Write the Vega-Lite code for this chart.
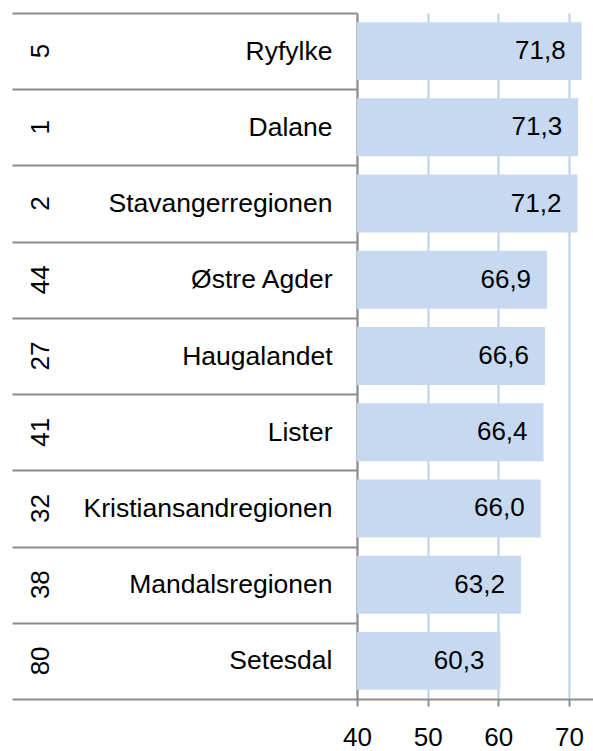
{
  "$schema": "https://vega.github.io/schema/vega-lite/v6.json",
  "width": 236,
  "height": 686,
  "autosize": {"type": "none"},
  "padding": {"left": 357, "top": 13, "right": 0, "bottom": 52},
  "data": {
    "values": [
      {"rank": "5", "name": "Ryfylke", "value": 71.8},
      {"rank": "1", "name": "Dalane", "value": 71.3},
      {"rank": "2", "name": "Stavangerregionen", "value": 71.2},
      {"rank": "44", "name": "Østre Agder", "value": 66.9},
      {"rank": "27", "name": "Haugalandet", "value": 66.6},
      {"rank": "41", "name": "Lister", "value": 66.4},
      {"rank": "32", "name": "Kristiansandregionen", "value": 66.0},
      {"rank": "38", "name": "Mandalsregionen", "value": 63.2},
      {"rank": "80", "name": "Setesdal", "value": 60.3}
    ]
  },
  "encoding": {
    "y": {
      "field": "name",
      "type": "nominal",
      "sort": null,
      "scale": {"paddingInner": 0, "paddingOuter": 0}
    },
    "x": {
      "field": "value",
      "type": "quantitative",
      "scale": {"domain": [40, 73.4], "nice": false, "zero": false},
      "axis": {
        "values": [40, 50, 60, 70],
        "title": null,
        "grid": true,
        "gridColor": "#bcd0e8",
        "gridWidth": 2,
        "domainColor": "#8c8c8c",
        "domainWidth": 2,
        "tickColor": "#8c8c8c",
        "tickWidth": 2,
        "tickSize": 7,
        "labelPadding": 18,
        "labelFlush": false,
        "labelFontSize": 26,
        "labelFont": "Liberation Sans",
        "labelColor": "#000000",
        "format": "d"
      }
    }
  },
  "layer": [
    {
      "mark": {"type": "bar", "color": "#c6d9f0", "clip": true, "height": {"band": 0.76}},
      "encoding": {
        "y": {
          "field": "name",
          "type": "nominal",
          "sort": null,
          "axis": {
            "title": null,
            "orient": "left",
            "tickBand": "extent",
            "tickSize": 345,
            "tickColor": "#8c8c8c",
            "tickWidth": 2,
            "domainColor": "#8c8c8c",
            "domainWidth": 2,
            "labelAlign": "right",
            "labelBaseline": "middle",
            "labelPadding": -320,
            "labelLimit": 0,
            "labelFontSize": 26.5,
            "labelFont": "Liberation Sans",
            "labelColor": "#000000",
            "labelOverlap": false
          }
        }
      }
    },
    {
      "mark": {"type": "text", "align": "right", "baseline": "middle", "dx": -16, "fontSize": 26, "font": "Liberation Sans", "color": "#000000"},
      "encoding": {
        "text": {"field": "value", "type": "quantitative", "format": ".1f"},
        "y": {
          "field": "name",
          "type": "nominal",
          "sort": null,
          "axis": {
            "title": null,
            "orient": "left",
            "ticks": false,
            "domain": false,
            "labelAngle": 270,
            "labelAlign": "center",
            "labelBaseline": "middle",
            "labelPadding": 317,
            "labelLimit": 0,
            "labelFontSize": 26,
            "labelFont": "Liberation Sans",
            "labelColor": "#000000",
            "labelOverlap": false,
            "labelExpr": "datum.value === 'Ryfylke' ? '5' : datum.value === 'Dalane' ? '1' : datum.value === 'Stavangerregionen' ? '2' : datum.value === 'Østre Agder' ? '44' : datum.value === 'Haugalandet' ? '27' : datum.value === 'Lister' ? '41' : datum.value === 'Kristiansandregionen' ? '32' : datum.value === 'Mandalsregionen' ? '38' : '80'"
          }
        }
      }
    }
  ],
  "resolve": {"axis": {"y": "independent"}},
  "config": {
    "view": {"stroke": null},
    "locale": {
      "number": {"decimal": ",", "thousands": " ", "grouping": [3], "currency": ["", " kr"]}
    }
  }
}
